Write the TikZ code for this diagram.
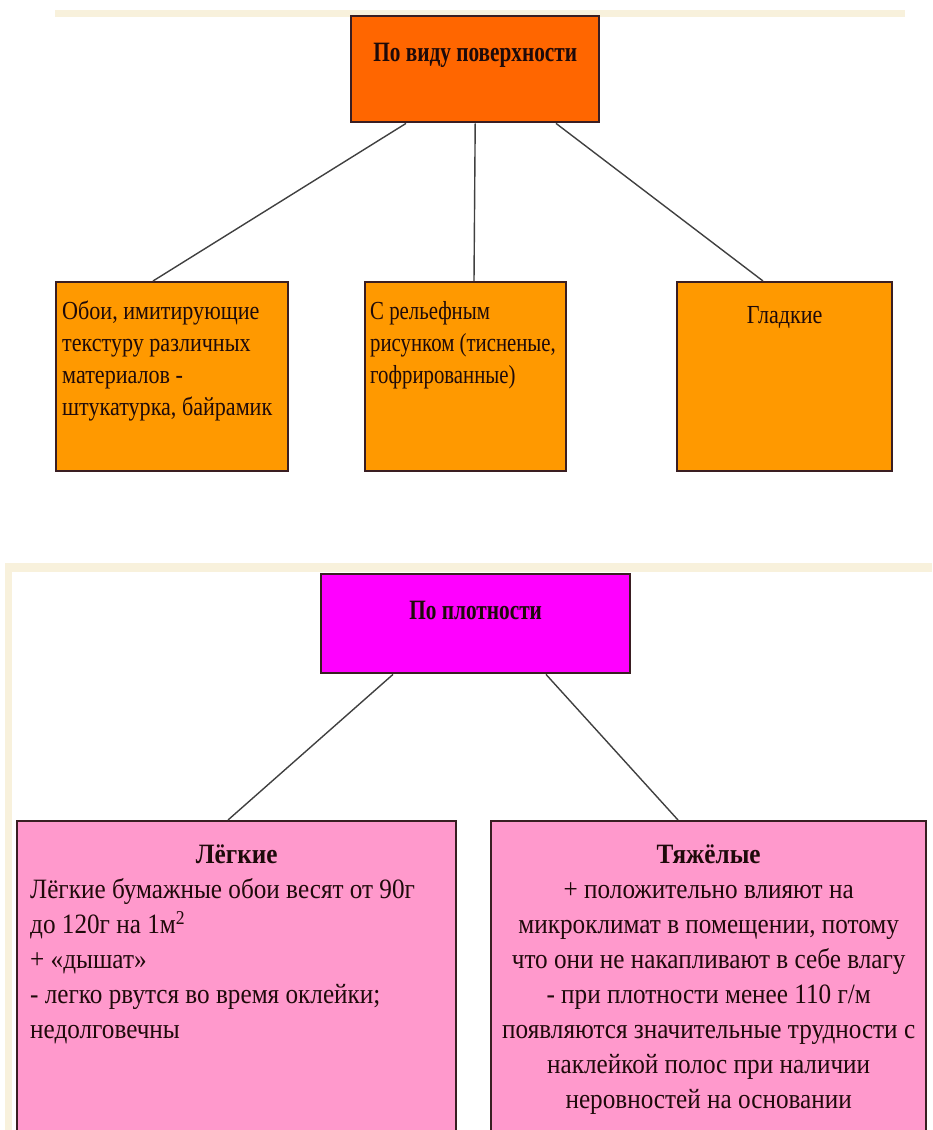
\documentclass[tikz,border=0pt]{standalone}
\usepackage{fontspec}
\setmainfont{Liberation Serif}
\usepackage{tikz}
\usetikzlibrary{positioning}
\usetikzlibrary{calc}

\definecolor{vidcol}{HTML}{FF6600}
\definecolor{subcol}{HTML}{FF9900}
\definecolor{plotcol}{HTML}{FF00FF}
\definecolor{rosecol}{HTML}{FF99CC}
\definecolor{boxline}{HTML}{3A1E22}
\definecolor{linegray}{HTML}{404040}
\definecolor{stripe}{HTML}{F8F1DC}
\definecolor{textcol}{HTML}{1E0A0A}

\tikzstyle{box} = [draw=boxline, line width=2.4pt, inner xsep=6pt, inner ysep=0pt, anchor=north west, text=textcol]
\tikzstyle{line} = [draw=linegray, line width=1.4pt]
\tikzstyle{head} = [font=\fontsize{28}{32}\selectfont\bfseries\addfontfeature{FakeStretch=0.76}]
\tikzstyle{small} = [font=\fontsize{26}{32}\selectfont\addfontfeature{FakeStretch=0.85}]
\tikzstyle{tight} = [font=\fontsize{26}{32}\selectfont\addfontfeature{FakeStretch=0.8}]
\tikzstyle{big} = [font=\fontsize{28}{35}\selectfont\addfontfeature{FakeStretch=0.9}]

\begin{document}
\begin{tikzpicture}[x=1pt, y=-1pt]
  \useasboundingbox (0,0) rectangle (932,1130);
  % slide edges
  \fill[stripe] (55,10) rectangle (905,17);
  \fill[stripe] (5,563) rectangle (932,572);
  \fill[stripe] (5,563) rectangle (12,1130);

  % by surface
  \node[box, head, fill=vidcol] (vid) at (350,15)
    {\parbox[b][106pt][t]{236pt}{\centering\vspace*{27pt}По виду поверхности}};
  \node[box, small, fill=subcol] (oboi) at (55,281)
    {\parbox[b][189pt][t]{220pt}{\raggedright\vspace*{19pt}Обои, имитирующие\\текстуру различных\\материалов -\\штукатурка, байрамик}};
  \node[box, tight, fill=subcol, inner xsep=5pt] (relief) at (364,281)
    {\parbox[b][189pt][t]{191pt}{\raggedright\vspace*{19pt}С рельефным\\рисунком (тисненые,\\гофрированные)}};
  \node[box, small, fill=subcol] (gladkie) at (676,281)
    {\parbox[b][189pt][t]{203pt}{\centering\vspace*{24pt}Гладкие}};

  \draw[line] ($(vid.south west)+(56,0)$) -- ($(oboi.north west)+(98,0)$);
  \draw[line] (vid.south) -- ($(relief.north west)+(110,0)$);
  \draw[line] ($(vid.south west)+(206,0)$) -- ($(gladkie.north west)+(87,0)$);

  % by density
  \node[box, head, fill=plotcol] (plot) at (320,573)
    {\parbox[b][99pt][t]{297pt}{\centering\vspace*{27pt}По плотности}};
  \node[box, big, fill=rosecol, inner xsep=13pt] (legkie) at (16,820)
    {\parbox[b][320pt][t]{413pt}{\raggedright\vspace*{24pt}%
      {\centering\bfseries Лёгкие\par}
      Лёгкие бумажные обои весят от 90г\\
      до 120г на 1м\textsuperscript{2}\\
      + «дышат»\\
      - легко рвутся во время оклейки;\\
      недолговечны}};
  \node[box, big, fill=rosecol] (tyazh) at (490,820)
    {\parbox[b][320pt][t]{423pt}{\centering\vspace*{24pt}%
      \textbf{Тяжёлые}\\
      + положительно влияют на\\
      микроклимат в помещении, потому\\
      что они не накапливают в себе влагу\\
      - при плотности менее 110 г/м\\
      появляются значительные трудности с\\
      наклейкой полос при наличии\\
      неровностей на основании}};

  \draw[line] ($(plot.south west)+(73,0)$) -- ($(legkie.north west)+(212,0)$);
  \draw[line] ($(plot.south west)+(226,0)$) -- ($(tyazh.north west)+(188,0)$);
\end{tikzpicture}
\end{document}
